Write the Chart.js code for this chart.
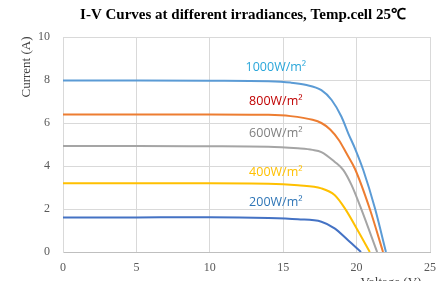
<!DOCTYPE html>
<html>
<head>
<meta charset="utf-8">
<script src="https://cdn.jsdelivr.net/npm/chart.js@4/dist/chart.umd.min.js"></script>
<style>
  html, body { margin: 0; padding: 0; background: #fff; }
  #wrap { width: 446px; height: 281px; }
</style>
</head>
<body>
<div id="wrap"><canvas id="grafico"></canvas></div>
<script>
// series: irradiance labels, voltage (V) and current (A)
const series = ["1000W/m²", "800W/m²", "600W/m²", "400W/m²", "200W/m²"];

const v1000 = [0, 5, 10, 14, 15.5, 16.5, 17.6, 18.3, 18.97, 19.43, 19.9, 20.46, 21.25, 22.0];
const i1000 = [7.98, 7.98, 7.97, 7.94, 7.88, 7.78, 7.53, 7.07, 6.29, 5.52, 4.8, 3.8, 2.03, 0];

const v800 = [0, 5, 10, 14, 15.5, 17.0, 17.6, 18.2, 18.8, 19.3, 19.9, 20.9, 21.8];
const i800 = [6.4, 6.4, 6.4, 6.38, 6.32, 6.15, 6.0, 5.7, 5.2, 4.6, 3.85, 2.0, 0];

const v600 = [0, 5, 10, 14, 16, 17, 17.6, 18.5, 19.1, 19.65, 20.3, 21.4];
const i600 = [4.93, 4.93, 4.92, 4.9, 4.82, 4.75, 4.65, 4.2, 3.81, 3.12, 2.03, 0];

const v400 = [0, 5, 10, 14, 16, 17.6, 18.5, 19.2, 20.1, 20.9];
const i400 = [3.2, 3.2, 3.2, 3.18, 3.1, 2.96, 2.65, 2.03, 0.98, 0];

const v200 = [0, 5, 10, 14, 16, 17.6, 18.5, 19.4, 20.3];
const i200 = [1.6, 1.61, 1.62, 1.58, 1.52, 1.41, 1.1, 0.56, 0];

const xTicks = [0, 5, 10, 15, 20, 25];
const yTicks = [0, 2, 4, 6, 8, 10];

// etiquetas dentro del gráfico (en unidades de datos)
const etiquetaV = 14.5;
const etiquetaI = [8.6, 7.0, 5.5, 3.72, 2.31];

const colores      = ["#5B9BD5", "#ED7D31", "#A5A5A5", "#FFC000", "#4472C4"];
const coloresTexto = ["#29A6DA", "#C00000", "#7F7F7F", "#FFC000", "#2E75B6"];

const volts = [v1000, v800, v600, v400, v200];
const amps  = [i1000, i800, i600, i400, i200];

const datasets = series.map((nombre, k) => ({
  label: nombre,
  data: volts[k].map((v, j) => ({ x: v, y: amps[k][j] })),
  borderColor: colores[k],
  backgroundColor: colores[k],
  borderWidth: 2,
  pointRadius: 0,
  showLine: true,
  cubicInterpolationMode: "monotone",
  fill: false
}));

const textos = {
  id: "textos",
  afterDraw(chart) {
    const ctx = chart.ctx;
    const sx = chart.scales.x, sy = chart.scales.y;
    ctx.save();

    ctx.fillStyle = "#000";
    ctx.font = "bold 15px 'Liberation Serif', serif";
    ctx.textAlign = "center";
    ctx.textBaseline = "middle";
    ctx.fillText("I-V Curves at different irradiances, Temp.cell 25℃", 243, 15);

    ctx.fillStyle = "#404040";
    ctx.font = "13px 'Liberation Serif', serif";
    ctx.save();
    ctx.translate(27, 67);
    ctx.rotate(-Math.PI / 2);
    ctx.fillText("Current (A)", 0, 0);
    ctx.restore();

    ctx.textBaseline = "top";
    ctx.fillText("Voltage (V)", 391, 276);

    ctx.font = "12.5px 'Open Sans', 'Liberation Sans', sans-serif";
    ctx.textBaseline = "middle";
    series.forEach((nombre, k) => {
      ctx.fillStyle = coloresTexto[k];
      ctx.fillText(nombre, sx.getPixelForValue(etiquetaV), sy.getPixelForValue(etiquetaI[k]));
    });
    ctx.restore();
  }
};

new Chart(document.getElementById("grafico"), {
  type: "scatter",
  data: { datasets },
  options: {
    responsive: true,
    maintainAspectRatio: false,
    animation: false,
    layout: { padding: { top: 37, right: 16, left: 0, bottom: 0 } },
    plugins: {
      legend: { display: false },
      tooltip: { enabled: false }
    },
    scales: {
      x: {
        type: "linear",
        min: xTicks[0], max: xTicks[xTicks.length - 1],
        afterFit: s => { s.height = 29; },
        grid: { color: "#D9D9D9", drawTicks: false },
        border: { color: "#BFBFBF" },
        ticks: { stepSize: xTicks[1] - xTicks[0], padding: 9, color: "#595959",
                 font: { family: "'Liberation Serif', serif", size: 12 } }
      },
      y: {
        type: "linear",
        min: yTicks[0], max: yTicks[yTicks.length - 1],
        afterFit: s => { s.width = 63; },
        grid: { color: "#D9D9D9", drawTicks: false },
        border: { color: "#D9D9D9" },
        ticks: { stepSize: yTicks[1] - yTicks[0], padding: 13, color: "#595959", autoSkip: false,
                 font: { family: "'Liberation Serif', serif", size: 12 } }
      }
    }
  },
  plugins: [textos]
});
</script>
</body>
</html>
